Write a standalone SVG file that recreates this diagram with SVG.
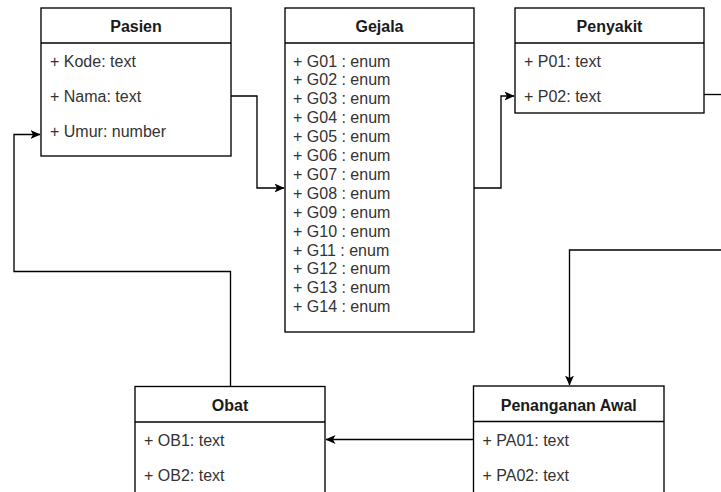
<svg xmlns="http://www.w3.org/2000/svg" width="721" height="492" viewBox="0 0 721 492">
<style>
.box{fill:#fff;stroke:#000;stroke-width:1.35}
.sep{stroke:#000;stroke-width:1.35}
.title{font-family:"Liberation Sans",Arial,sans-serif;font-size:16px;font-weight:bold;fill:#1a1a1a;text-anchor:middle}
.row{font-family:"Liberation Sans",Arial,sans-serif;font-size:16px;fill:#333}
.edge{fill:none;stroke:#000;stroke-width:1.35}
</style>
<defs>
<marker id="arr" viewBox="0 0 10 10" refX="9.5" refY="5" markerWidth="10" markerHeight="10" markerUnits="userSpaceOnUse" orient="auto">
<path d="M0,0.5 L10,5 L0,9.5 L2.5,5 Z" fill="#000"/>
</marker>
</defs>
<rect width="721" height="492" fill="#fff"/>
<g id="connectors">
<path class="edge" d="M231,96 H257 V188 H284" marker-end="url(#arr)"/>
<path class="edge" d="M474,188 H501 V96 H514" marker-end="url(#arr)"/>
<path class="edge" d="M704,94.5 H721"/>
<path class="edge" d="M721,250 H569.5 V385" marker-end="url(#arr)"/>
<path class="edge" d="M473.5,439.5 H326" marker-end="url(#arr)"/>
<path class="edge" d="M230.5,386.5 V271.5 H14 V134.5 H40" marker-end="url(#arr)"/>
</g>
<g id="pasien">
<rect class="box" x="41" y="8" width="190" height="148"/>
<line class="sep" x1="41" y1="43" x2="231" y2="43"/>
<text class="title" x="136" y="31.5">Pasien</text>
<text class="row" x="50" y="66.5">+ Kode: text</text>
<text class="row" x="50" y="101.5">+ Nama: text</text>
<text class="row" x="50" y="136.5">+ Umur: number</text>
</g>
<g id="gejala">
<rect class="box" x="285" y="8" width="189" height="324"/>
<line class="sep" x1="285" y1="43" x2="474" y2="43"/>
<text class="title" x="379.5" y="31.5">Gejala</text>
<text class="row" x="293" y="66.5">+ G01 : enum</text>
<text class="row" x="293" y="85.4">+ G02 : enum</text>
<text class="row" x="293" y="104.3">+ G03 : enum</text>
<text class="row" x="293" y="123.2">+ G04 : enum</text>
<text class="row" x="293" y="142.1">+ G05 : enum</text>
<text class="row" x="293" y="161">+ G06 : enum</text>
<text class="row" x="293" y="179.9">+ G07 : enum</text>
<text class="row" x="293" y="198.8">+ G08 : enum</text>
<text class="row" x="293" y="217.7">+ G09 : enum</text>
<text class="row" x="293" y="236.6">+ G10 : enum</text>
<text class="row" x="293" y="255.5">+ G11 : enum</text>
<text class="row" x="293" y="274.4">+ G12 : enum</text>
<text class="row" x="293" y="293.3">+ G13 : enum</text>
<text class="row" x="293" y="312.2">+ G14 : enum</text>
</g>
<g id="penyakit">
<rect class="box" x="515" y="8" width="189" height="105"/>
<line class="sep" x1="515" y1="43" x2="704" y2="43"/>
<text class="title" x="609.5" y="31.5">Penyakit</text>
<text class="row" x="524" y="66.5">+ P01: text</text>
<text class="row" x="524" y="101.5">+ P02: text</text>
</g>
<g id="obat">
<rect class="box" x="135" y="386.5" width="190" height="148"/>
<line class="sep" x1="135" y1="422" x2="325" y2="422"/>
<text class="title" x="230" y="411">Obat</text>
<text class="row" x="144" y="445.5">+ OB1: text</text>
<text class="row" x="144" y="480.5">+ OB2: text</text>
</g>
<g id="penanganan-awal">
<rect class="box" x="473.5" y="386" width="190.5" height="148"/>
<line class="sep" x1="473.5" y1="421.5" x2="664" y2="421.5"/>
<text class="title" x="568.75" y="410.5">Penanganan Awal</text>
<text class="row" x="482.5" y="446">+ PA01: text</text>
<text class="row" x="482.5" y="481">+ PA02: text</text>
</g>
</svg>
